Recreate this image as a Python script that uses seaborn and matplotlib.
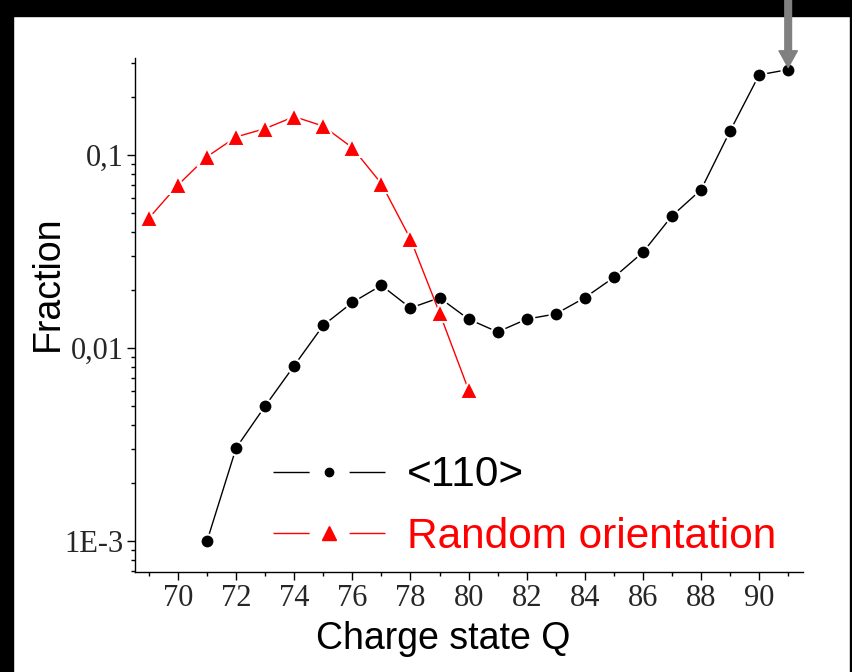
import matplotlib
matplotlib.use("Agg")
import matplotlib.pyplot as plt
import seaborn as sns
import numpy as np
import pandas as pd
from matplotlib.lines import Line2D
from matplotlib.legend_handler import HandlerTuple
from matplotlib.patches import Rectangle
from matplotlib.ticker import MultipleLocator, LogLocator, NullFormatter

# ---- data ----
q_110 = [71, 72, 73, 74, 75, 76, 77, 78, 79, 80, 81, 82, 83, 84, 85, 86, 87, 88, 89, 90, 91]
f_110 = [0.0010, 0.00303, 0.0050, 0.0081, 0.0131, 0.0172, 0.0211, 0.0161, 0.0182, 0.0141, 0.0121,
         0.0141, 0.0150, 0.0182, 0.0232, 0.0313, 0.0483, 0.0660, 0.133, 0.260, 0.277]
q_rand = [69, 70, 71, 72, 73, 74, 75, 76, 77, 78, 79, 80]
f_rand = [0.0471, 0.0699, 0.0980, 0.124, 0.137, 0.158, 0.141, 0.109, 0.0710, 0.0367, 0.0152, 0.00606]
series_labels = ["<110>", "Random orientation"]
x_ticks = [70, 72, 74, 76, 78, 80, 82, 84, 86, 88, 90]
y_ticks = [1e-3, 1e-2, 1e-1]
y_tick_labels = ["1E-3", "0,01", "0,1"]

sns.set_style("ticks")
plt.rcParams['font.family'] = ['Liberation Sans', 'DejaVu Sans']

W, H = 853, 672
fig = plt.figure(figsize=(W / 100, H / 100), dpi=100)
ax = fig.add_axes([135 / W, 1 - 572 / H, (803 - 135) / W, (572 - 58) / H])

sns.lineplot(x=q_110, y=f_110, ax=ax, color="black", linewidth=1.0, marker="o",
             markersize=10, markeredgecolor="white", markeredgewidth=1.5, zorder=3)
sns.lineplot(x=q_rand, y=f_rand, ax=ax, color="red", linewidth=1.0, marker="^",
             markersize=13.5, markeredgecolor="white", markeredgewidth=1.5, zorder=4)

ax.set_yscale("log")
ax.set_xlim(68.52, 91.51)
ax.set_ylim(6.9e-4, 0.318)

ax.set_xticks(x_ticks)
ax.set_xticklabels([str(t) for t in x_ticks])
ax.xaxis.set_minor_locator(MultipleLocator(1))
ax.set_yticks(y_ticks)
ax.set_yticklabels(y_tick_labels)
ax.yaxis.set_minor_locator(LogLocator(base=10, subs=np.arange(2, 10)))
ax.yaxis.set_minor_formatter(NullFormatter())

for lab in ax.get_xticklabels() + ax.get_yticklabels():
    lab.set_family("Liberation Serif")
    lab.set_fontsize(22)

ax.tick_params(which="major", length=5.5, width=1, color="black", direction="out")
ax.tick_params(which="minor", length=3, width=1, color="black", direction="out")
ax.tick_params(axis="x", which="major", pad=3)
ax.tick_params(axis="y", which="major", pad=2.5)

for s in ["top", "right"]:
    ax.spines[s].set_visible(False)
for s in ["left", "bottom"]:
    ax.spines[s].set_color("black")
    ax.spines[s].set_linewidth(1)

ax.set_xlabel("Charge state Q", fontsize=27, color="black")
ax.set_ylabel("Fraction", fontsize=27, color="black")
ax.xaxis.set_label_coords(0.461, -0.096)
ax.yaxis.set_label_coords(-0.1035, 0.561)

# ---- legend ----
dash = (0, (26, 28.8, 40, 100))
line_k = Line2D([], [], color="black", lw=1, linestyle=dash)
mark_k = Line2D([], [], color="black", marker="o", ms=6, linestyle="none")
line_r = Line2D([], [], color="red", lw=1, linestyle=dash)
mark_r = Line2D([], [], color="red", marker="^", ms=10.5, linestyle="none")
leg = ax.legend(handles=[(line_k, mark_k), (line_r, mark_r)], labels=series_labels,
                handler_map={tuple: HandlerTuple(ndivide=1, pad=0)},
                loc="center left", bbox_to_anchor=(273 / W, 1 - 506 / H),
                bbox_transform=fig.transFigure, frameon=False, fontsize=30.5,
                handlelength=2.64, handletextpad=0.52, labelspacing=0.5,
                borderpad=0, borderaxespad=0, numpoints=1)
leg.get_texts()[0].set_color("black")
leg.get_texts()[1].set_color("red")

# ---- black frame bands ----
fig.patches.append(Rectangle((0, 1 - 16 / H), 1, 16 / H, transform=fig.transFigure,
                             color="black", zorder=-1))
fig.patches.append(Rectangle((0, 0), 13 / W, 1, transform=fig.transFigure,
                             color="black", zorder=-1))
fig.patches.append(Rectangle((850 / W, 0), 3 / W, 1, transform=fig.transFigure,
                             color="black", zorder=-1))

# ---- gray arrow pointing at last <110> point ----
ax.annotate("", xy=(q_110[-1], f_110[-1]), xycoords="data",
            xytext=(q_110[-1], 1.0), textcoords=("data", "figure fraction"),
            arrowprops=dict(arrowstyle="simple,head_length=1.0,head_width=1.1,tail_width=0.4",
                            color="#808080", shrinkA=0, shrinkB=1.5, mutation_scale=12),
            annotation_clip=False, zorder=10)

fig.savefig("out.png", dpi=100)
